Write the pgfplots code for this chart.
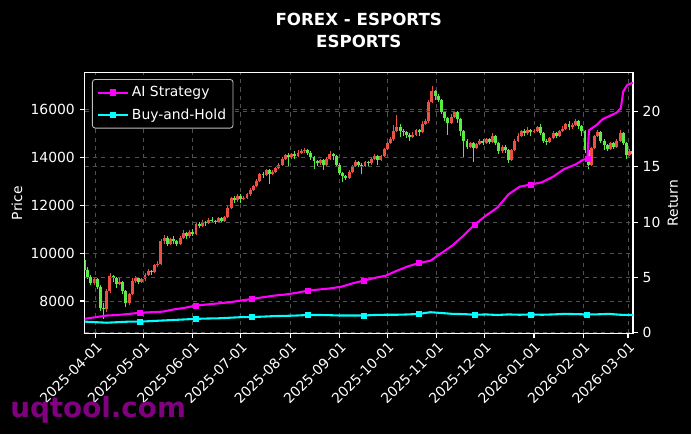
\documentclass[border=0pt]{standalone}
\usepackage{pgfplots}
\pgfplotsset{compat=1.18}
\usepackage{pgfplotstable}
\usepackage{fontspec}
\setmainfont{DejaVu Sans}
\definecolor{upc}{RGB}{235,80,70}
\definecolor{dnc}{RGB}{90,235,70}
\definecolor{gridc}{RGB}{80,80,80}
\definecolor{wm}{RGB}{128,0,128}
\definecolor{mag}{RGB}{255,0,255}
\definecolor{cya}{RGB}{0,255,255}

% candles, close > open (red)
\pgfplotstableread{
d o h l c
-1 8750 9000 8650 8900
7 7650 8500 7550 8400
9 8400 9150 8350 9050
15 8700 8950 8650 8800
21 7900 8350 7850 8300
23 8300 8950 8250 8850
25 8850 9050 8750 8950
29 8800 8950 8750 8900
31 8900 9150 8850 9100
33 9100 9350 9050 9250
37 9200 9550 9150 9500
39 9500 9650 9400 9550
41 9550 10600 9500 10500
43 10500 10750 10400 10650
47 10400 10650 10350 10600
53 10400 10700 10350 10650
55 10650 10950 10600 10850
59 10700 10950 10650 10900
63 10800 11250 10750 11200
67 11150 11400 11100 11300
71 11250 11450 11200 11400
77 11300 11500 11250 11450
81 11350 11550 11300 11500
83 11500 11950 11450 11900
85 11900 12350 11850 12300
89 12200 12450 12150 12400
93 12250 12400 12200 12300
95 12300 12500 12250 12450
97 12450 12700 12400 12650
99 12650 12850 12600 12800
101 12800 13100 12750 13000
103 13000 13350 12950 13300
107 13250 13500 13200 13450
111 13300 13450 13250 13400
113 13400 13600 13350 13550
115 13550 13750 13500 13700
117 13700 14000 13650 13950
119 13950 14150 13900 14100
123 14000 14200 13950 14150
127 14050 14300 14000 14200
129 14200 14350 14150 14250
131 14250 14400 14200 14300
141 13750 13950 13700 13900
145 13700 14000 13650 13950
147 13950 14250 13900 14150
159 13150 13450 13100 13400
161 13400 13700 13350 13650
163 13650 13900 13600 13800
169 13650 13850 13600 13800
173 13750 14000 13700 13950
175 13950 14150 13900 14050
179 13900 14100 13850 14050
181 14050 14400 14000 14350
183 14350 14650 14300 14600
185 14600 14850 14550 14750
187 14750 15350 14700 15100
189 15100 15750 15050 15250
199 14850 15050 14800 14950
201 14950 15200 14900 15150
205 15050 15500 15000 15400
207 15400 15600 15350 15500
209 15500 16400 15450 16300
211 16300 16980 16250 16750
223 15450 15800 15400 15700
225 15700 15950 15650 15900
235 14450 14650 14400 14600
239 14400 14600 14350 14550
241 14550 14750 14500 14700
245 14600 14800 14550 14750
249 14650 15000 14600 14900
255 14250 14500 14200 14450
261 13900 14350 13850 14300
263 14300 14750 14250 14700
265 14700 15000 14650 14900
267 14900 15150 14850 15100
271 15000 15250 14950 15150
275 15050 15200 15000 15100
277 15100 15300 15050 15250
285 14650 14850 14600 14800
287 14800 15100 14750 15000
291 14900 15150 14850 15100
293 15100 15300 15050 15200
295 15200 15450 15150 15400
299 15250 15450 15200 15350
301 15350 15600 15300 15500
311 13700 14450 13650 14400
313 14400 14950 14350 14900
315 14900 15150 14850 15050
323 14350 14650 14300 14600
327 14450 14750 14400 14700
329 14700 15150 14650 15000
335 14100 14350 14050 14250
}\upcandles

% candles, close < open (green)
\pgfplotstableread{
d o h l c
-7 9700 9800 9200 9300
-5 9300 9400 8900 9000
-3 9000 9100 8650 8750
1 8900 8950 8500 8600
3 8600 8650 7600 7700
5 7700 7900 7250 7650
11 9050 9100 8800 8950
13 8950 9000 8550 8700
17 8800 8850 8300 8400
19 8400 8450 7750 7900
27 8950 9000 8700 8800
35 9250 9300 9100 9200
45 10650 10700 10300 10400
49 10600 10700 10400 10500
51 10500 10550 10300 10400
57 10850 10900 10600 10700
61 10900 11000 10700 10800
65 11200 11300 11050 11150
69 11300 11350 11150 11250
73 11400 11500 11250 11350
75 11350 11400 11200 11300
79 11450 11500 11300 11350
87 12300 12400 12100 12200
91 12400 12450 12100 12250
105 13300 13400 13150 13250
109 13450 13500 12900 13300
121 14100 14200 13650 14000
125 14150 14250 13950 14050
133 14300 14350 14100 14200
135 14200 14250 13900 14000
137 14000 14050 13500 13850
139 13850 13900 13650 13750
143 13900 13950 13450 13700
149 14150 14200 13900 14050
151 14050 14100 13600 13700
153 13700 13750 13250 13350
155 13350 13400 12950 13200
157 13200 13250 13050 13150
165 13800 13850 13600 13700
167 13700 13750 13300 13650
171 13800 13850 13650 13750
177 14050 14100 13700 13900
191 15250 15400 14850 15100
193 15100 15200 14900 15050
195 15050 15100 14800 14950
197 14950 15000 14700 14850
203 15150 15200 14900 15050
213 16750 16800 16400 16550
215 16550 16650 16300 16400
217 16400 16450 15800 15900
219 15900 15950 15500 15650
221 15650 15700 14950 15450
227 15900 15950 15450 15600
229 15600 15650 14900 15100
231 15100 15150 14000 14700
233 14700 14750 14350 14450
237 14600 14650 13800 14400
243 14700 14750 14500 14600
247 14750 14800 14550 14650
251 14900 14950 14500 14600
253 14600 14650 14150 14250
257 14450 14500 14200 14300
259 14300 14350 13750 13900
269 15100 15200 14900 15000
273 15150 15200 14900 15050
279 15250 15400 14950 15000
281 15000 15050 14600 14700
283 14700 14750 14500 14650
289 15000 15050 14800 14900
297 15400 15500 15150 15250
303 15500 15550 15200 15300
305 15300 15350 14900 15100
307 15100 15150 14200 14300
309 14300 14400 13500 13700
317 15050 15100 14600 14700
319 14700 14750 14300 14500
321 14500 14550 14250 14350
325 14600 14650 14350 14450
331 15000 15050 14500 14600
333 14600 14650 13950 14100
337 14250 14350 14050 14150
}\dncandles

\pgfplotstableread{
d r
-7 1.25
0 1.4
7 1.55
14 1.6
21 1.7
28 1.8
35 1.85
42 1.9
49 2.1
56 2.25
63 2.45
70 2.55
77 2.65
84 2.75
91 2.9
98 3.05
105 3.2
112 3.35
119 3.45
126 3.6
133 3.8
140 3.9
147 4.0
154 4.15
161 4.45
168 4.7
175 4.95
182 5.15
189 5.6
196 6.0
203 6.3
210 6.5
217 7.2
224 7.9
231 8.8
238 9.8
245 10.6
252 11.3
259 12.5
266 13.2
273 13.4
280 13.6
287 14.1
294 14.8
301 15.2
306 15.65
308.5 15.7
309.5 18.3
314.5 18.8
318 19.3
324 19.7
327 19.9
329.5 20.3
331 21.8
333.5 22.4
337 22.6
}\aistrat

\pgfplotstableread{
d r
-7 1.25
28 1.8
63 2.45
98 3.05
133 3.8
168 4.7
203 6.3
238 9.8
273 13.4
308.5 15.7
}\aimarks

\pgfplotstableread{
d r
-7 1.0
0 0.95
7 0.9
14 0.95
21 1.0
28 1.0
35 1.05
42 1.1
49 1.15
56 1.2
63 1.25
70 1.28
77 1.3
84 1.35
91 1.4
98 1.42
105 1.45
112 1.5
119 1.52
126 1.55
133 1.6
140 1.6
147 1.58
154 1.55
161 1.55
168 1.55
175 1.6
182 1.62
189 1.62
196 1.65
203 1.7
210 1.85
217 1.78
224 1.7
231 1.68
238 1.62
245 1.65
252 1.6
259 1.65
266 1.62
273 1.65
280 1.62
287 1.65
294 1.7
301 1.68
308 1.65
315 1.66
322 1.7
329 1.62
337 1.6
}\bh

\pgfplotstableread{
d r
-7 1.0
28 1.0
63 1.25
98 1.42
133 1.6
168 1.55
203 1.7
238 1.62
273 1.65
308 1.65
}\bhmarks

\begin{document}
\begin{tikzpicture}
\fill[black] (-60.9pt,-72.5pt) rectangle (436.6pt,240pt);
\useasboundingbox (-60.9pt,-72.5pt) rectangle (436.6pt,240pt);
\pgfplotsset{
  myaxis/.style={
    at={(0,0)}, anchor=south west,
    width=394.8pt, height=187.6pt, scale only axis,
    xmin=-6.9, xmax=337.1,
    tick align=outside,
    major tick length=3.5pt,
    tick style={white, line width=0.8pt},
    axis line style={white, line width=0.8pt},
    ticklabel style={text=white, font=\fontsize{10}{12}\selectfont},
    /pgf/number format/assume math mode=true,
    /pgf/number format/1000 sep={},
    scaled y ticks=false,
    major grid style={gridc, dashed, line width=0.5pt},
  }
}
\begin{axis}[myaxis,
  ymin=6650, ymax=17530,
  xtick={0,30,61,91,122,153,183,214,244,275,306,334},
  xticklabels={2025-04-01,2025-05-01,2025-06-01,2025-07-01,2025-08-01,2025-09-01,2025-10-01,2025-11-01,2025-12-01,2026-01-01,2026-02-01,2026-03-01},
  ytick={8000,10000,12000,14000,16000},
  yticklabels={8000,10000,12000,14000,16000},
  xtick pos=bottom, ytick pos=left,
  xticklabel style={rotate=45, anchor=north east, inner sep=1pt},
  xmajorgrids, ymajorgrids,
]
\addplot[upc, line width=0.6pt, quiver={u=0, v=\thisrow{h}-\thisrow{l}}] table[x=d, y=l]{\upcandles};
\addplot[upc, line width=2.1pt, quiver={u=0, v=\thisrow{c}-\thisrow{o}}] table[x=d, y=o]{\upcandles};
\addplot[dnc, line width=0.6pt, quiver={u=0, v=\thisrow{h}-\thisrow{l}}] table[x=d, y=l]{\dncandles};
\addplot[dnc, line width=2.1pt, quiver={u=0, v=\thisrow{c}-\thisrow{o}}] table[x=d, y=o]{\dncandles};
\end{axis}
\begin{axis}[myaxis,
  ymin=-0.06, ymax=23.5,
  axis x line=none, axis y line*=right,
  y axis line style={-},
  ytick={0,5,10,15,20},
  ymajorgrids,
  legend style={at={(0.0135,0.976)}, anchor=north west, fill=black, draw=white!75!black,
    rounded corners=2pt, text=white, font=\fontsize{10}{12}\selectfont,
    row sep=3pt, inner sep=3pt, line width=0.6pt},
  legend cell align=left,
  legend image code/.code={
    \draw[#1] (0pt,0pt) -- (22pt,0pt);
    \draw[#1, mark size=1.5pt, mark=square*] plot coordinates {(11pt,0pt)};
  },
]
\addlegendimage{mag, line width=1.5pt}
\addlegendentry{AI Strategy}
\addlegendimage{cya, line width=1.5pt}
\addlegendentry{Buy-and-Hold}
\addplot[mag, line width=1.5pt, line join=round] table[x=d, y=r]{\aistrat};
\addplot[cya, line width=1.5pt, line join=round] table[x=d, y=r]{\bh};
\addplot[mag, only marks, mark=square*, mark size=1.8pt] table[x=d, y=r]{\aimarks};
\addplot[cya, only marks, mark=square*, mark size=1.8pt] table[x=d, y=r]{\bhmarks};
\end{axis}
\node[white, rotate=90, font=\fontsize{10}{12}\selectfont] at (-48.7pt,93.8pt) {Price};
\node[white, rotate=90, font=\fontsize{10}{12}\selectfont] at (423.6pt,93.8pt) {Return};
\node[white, anchor=base, font=\fontsize{12}{14}\selectfont\bfseries] at (197.4pt,221.3pt) {FOREX - ESPORTS};
\node[white, anchor=base, font=\fontsize{12}{14}\selectfont\bfseries] at (197.4pt,206.1pt) {ESPORTS};
\node[wm, anchor=base west, inner sep=0pt, font=\fontsize{20}{24}\selectfont\bfseries] at (-53.7pt,-60.3pt) {uqtool.com};
\end{tikzpicture}
\end{document}
